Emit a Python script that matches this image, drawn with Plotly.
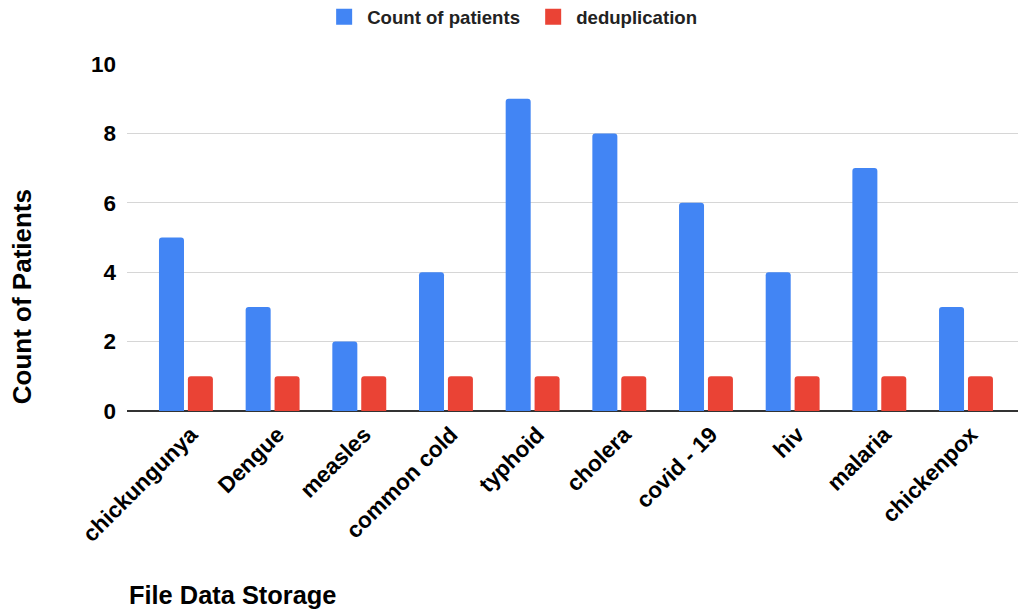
import plotly.graph_objects as go

# Disease categories and patient counts
diseases = ["chickungunya", "Dengue", "measles", "common cold", "typhoid",
            "cholera", "covid - 19", "hiv", "malaria", "chickenpox"]
count_of_patients = [5, 3, 2, 4, 9, 8, 6, 4, 7, 3]
deduplication = [1, 1, 1, 1, 1, 1, 1, 1, 1, 1]
y_ticks = [0, 2, 4, 6, 8, 10]

BLUE = "#4285F4"
RED = "#EA4335"
FONT = "Liberation Sans, Arial, sans-serif"

fig = go.Figure()
fig.add_trace(go.Bar(x=diseases, y=count_of_patients, name="Count of patients",
                     marker=dict(color=BLUE, cornerradius=3, line=dict(width=0)),
                     showlegend=False))
fig.add_trace(go.Bar(x=diseases, y=deduplication, name="deduplication",
                     marker=dict(color=RED, cornerradius=3, line=dict(width=0)),
                     showlegend=False))

# Legend entries with larger square swatches
legend_items = [("Count of patients" + "\u00a0", BLUE), ("deduplication", RED)]
for name, color in legend_items:
    fig.add_trace(go.Scatter(x=[None], y=[None], mode="markers", name=name,
                             marker=dict(symbol="square", size=19, color=color),
                             showlegend=True))

fig.update_layout(
    width=1018, height=610,
    margin=dict(l=127, r=0, t=63.5, b=199, pad=0),
    paper_bgcolor="white", plot_bgcolor="white",
    barmode="group", bargap=0.333, bargroupgap=0.135,
    font=dict(family=FONT, color="#000000"),
    legend=dict(orientation="h", xref="container", yref="container",
                x=0.5026, xanchor="center", y=0.972, yanchor="middle",
                font=dict(size=18.6, family=FONT, weight="bold", color="#222222"),
                itemsizing="trace", itemwidth=36, tracegroupgap=0,
                bgcolor="rgba(0,0,0,0)"),
    xaxis=dict(type="category", range=[-0.68, 9.6], showgrid=False,
               tickangle=-45, ticks="", showline=False, zeroline=False,
               ticklabelstandoff=5, ticklabelshift=5,
               tickfont=dict(size=22.5, family=FONT, weight="bold", color="#000000")),
    yaxis=dict(range=[0, 10], tickvals=y_ticks, showgrid=True, gridcolor="#d6d6d6",
               gridwidth=1.2, zeroline=True, zerolinecolor="#333333", zerolinewidth=1.5,
               showline=False, ticks="", ticklabelstandoff=10,
               tickfont=dict(size=22.5, family=FONT, weight="bold", color="#000000")),
    annotations=[
        dict(text="<b>Count of Patients</b>", xref="paper", yref="paper",
             x=-0.117, y=0.33, xanchor="center", yanchor="middle",
             textangle=-90, showarrow=False,
             font=dict(size=26, family=FONT, color="#000000")),
        dict(text="<b>File Data Storage</b>", xref="paper", yref="paper",
             x=0.0, xanchor="left", y=-0.53, yanchor="middle", showarrow=False,
             font=dict(size=25.4, family=FONT, color="#000000")),
    ],
)

fig.write_html("out.html")
